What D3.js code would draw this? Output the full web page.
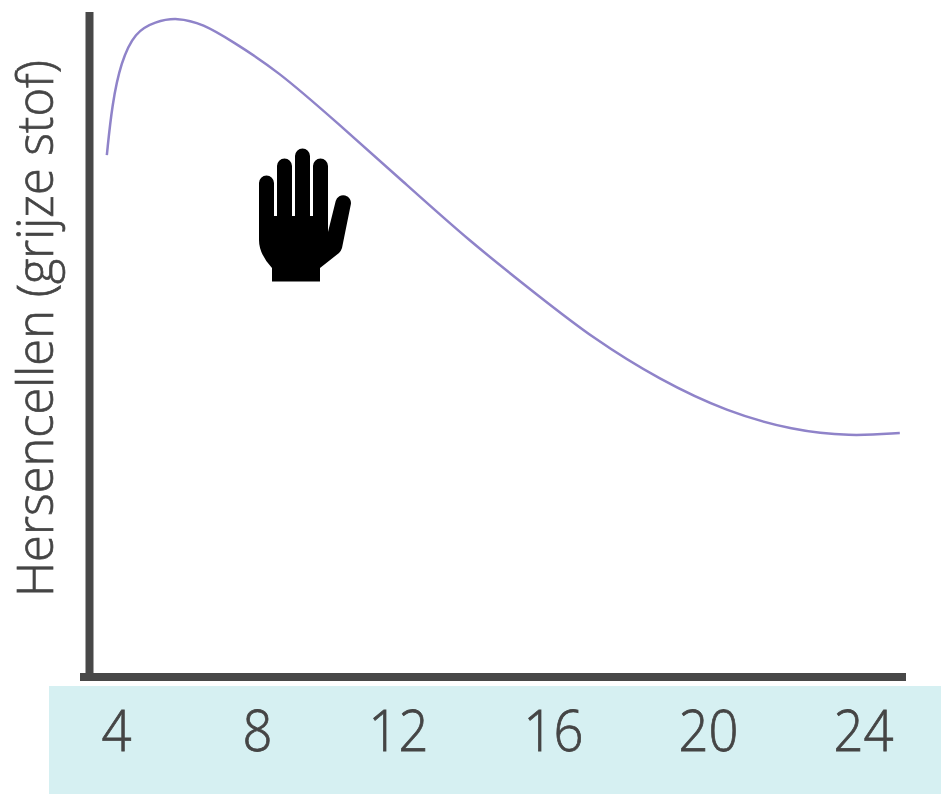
<!DOCTYPE html>
<html>
<head>
<meta charset="utf-8">
<script src="https://cdn.jsdelivr.net/npm/d3@7"></script>
<style>
  html, body { margin: 0; padding: 0; background: #fff; }
  svg { display: block; }
  text { font-family: "Open Sans", sans-serif; fill: #454545; }
</style>
</head>
<body>
<div id="chart"></div>
<script>
// Data
const ages = [3.74, 3.89, 4.14, 4.54, 5.11, 5.73, 6.47, 7.29, 8.57, 10.27,
              12.13, 13.86, 15.59, 17.03, 18.76, 20.49, 22.19, 23.66, 24.95];
const greyMatter = [78.7, 86.4, 92.75, 97.3, 98.85, 99.5, 98.5, 95.9, 91.5, 83.6,
                    74.7, 65.6, 57.6, 51.0, 44.7, 39.9, 37.1, 36.2, 36.7];
const xTicks = [4, 8, 12, 16, 20, 24];
const xTickPos = [116, 257, 398, 553, 708, 863];
const yLabel = "Hersencellen (grijze stof)";

const width = 941, height = 794;

const svg = d3.select("#chart").append("svg")
  .attr("width", width)
  .attr("height", height);

// the ticks in the picture are not evenly spaced, so piecewise
const x = d3.scaleLinear().domain(xTicks).range(xTickPos);
const y = d3.scaleLinear().domain([0, 100]).range([676, 14]);

// Band behind the tick labels
svg.append("rect")
  .attr("x", 49).attr("y", 686)
  .attr("width", width - 49).attr("height", height - 686)
  .attr("fill", "#d6f0f2");

// Axis lines
svg.append("line")
  .attr("x1", 89.5).attr("x2", 89.5)
  .attr("y1", 12).attr("y2", 677)
  .attr("stroke", "#484848").attr("stroke-width", 8);
svg.append("line")
  .attr("x1", 80).attr("x2", 906)
  .attr("y1", 677).attr("y2", 677)
  .attr("stroke", "#484848").attr("stroke-width", 8);

// Tick labels: light weight with a thin stroke, squeezed to the original's width
const xAxis = svg.append("g")
  .attr("transform", "translate(0,750.5)")
  .call(d3.axisBottom(x).tickValues(xTicks).tickSize(0).tickPadding(0).tickFormat(d3.format("d")));
xAxis.select(".domain").remove();
xAxis.selectAll("text")
  .attr("dy", 0)
  .attr("y", 0)
  .attr("textLength", d => String(d).length * 30)
  .attr("lengthAdjust", "spacingAndGlyphs")
  .attr("stroke", "#454545")
  .attr("stroke-width", 0.8)
  .style("font-family", '"Open Sans", sans-serif')
  .style("font-size", "57px")
  .style("font-weight", 300);

// Y label
svg.append("text")
  .attr("transform", "translate(53,328.5) rotate(-90)")
  .attr("text-anchor", "middle")
  .attr("textLength", 537)
  .attr("lengthAdjust", "spacingAndGlyphs")
  .attr("stroke", "#454545")
  .attr("stroke-width", 0.7)
  .style("font-size", "50px")
  .style("font-weight", 300)
  .text(yLabel);

// Curve
const line = d3.line()
  .x(d => x(d[0]))
  .y(d => y(d[1]))
  .curve(d3.curveBasis);

svg.append("path")
  .datum(d3.zip(ages, greyMatter))
  .attr("d", line)
  .attr("fill", "none")
  .attr("stroke", "#8f83c9")
  .attr("stroke-width", 2.5);

// Hand icon
svg.append("path")
  .attr("d", "M259 183a7.5 7.5 0 0 1 15 0V216h3V166a7.5 7.5 0 0 1 15 0V216h3V156a7.5 7.5 0 0 1 15 0V216h3V166a7.5 7.5 0 0 1 15 0V232L335.7 201a7.5 7.5 0 0 1 15 4L342 248Q341 251 339 253L320 268V281.5H272V268Q259 254 259 240Z")
  .attr("fill", "#000");
</script>
</body>
</html>
